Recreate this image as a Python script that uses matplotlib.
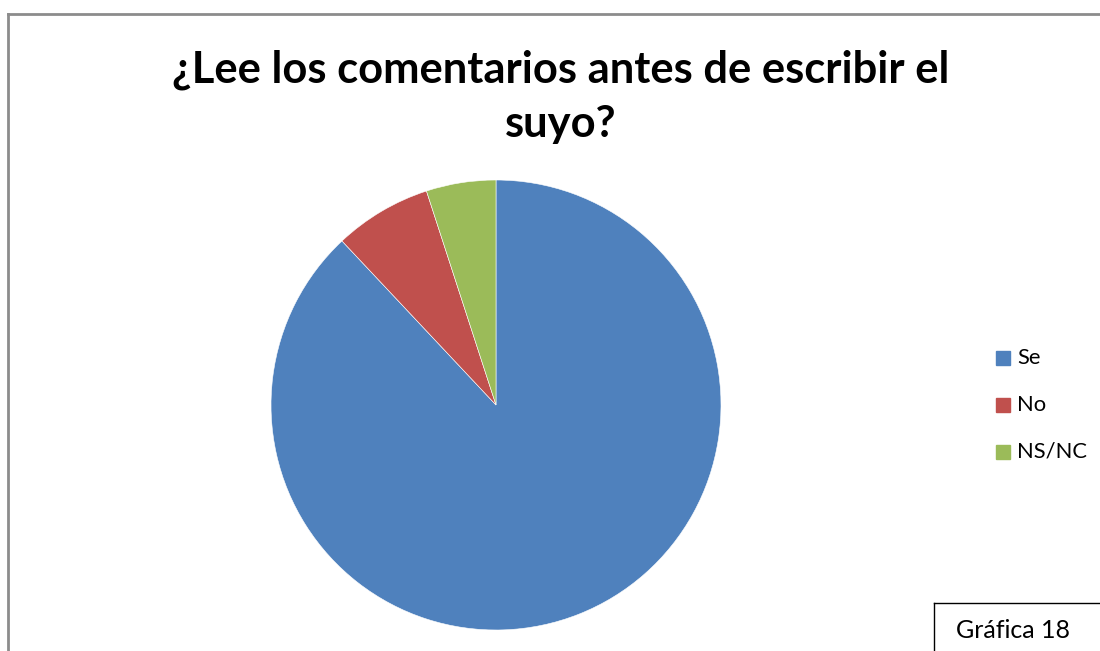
import matplotlib.pyplot as plt
from matplotlib.patches import Rectangle
from matplotlib.lines import Line2D

# Survey answers
labels = ["Se", "No", "NS/NC"]
values = [88, 7, 5]
colors = ["#4F81BD", "#C0504D", "#9BBB59"]

fig = plt.figure(figsize=(11, 6.51), dpi=100)

# Chart frame (top and left edges visible)
fig.add_artist(Line2D([8/1100, 8/1100], [0, 1 - 14/651], color="#8c8c8c", lw=2))
fig.add_artist(Line2D([8/1100, 1], [1 - 14/651, 1 - 14/651], color="#8c8c8c", lw=2))

# Title
fig.text(0.510, 1 - 70/651, "¿Lee los comentarios antes de escribir el",
         ha="center", va="center", fontsize=31.3, fontweight="bold",
         family=["Lato", "DejaVu Sans"])
fig.text(0.510, 1 - 124/651, "suyo?",
         ha="center", va="center", fontsize=31.3, fontweight="bold",
         family=["Lato", "DejaVu Sans"])

# Pie
ax = fig.add_axes([271/1100, 21/651, 450/1100, 450/651])
ax.pie(values, colors=colors, startangle=90, counterclock=False,
       wedgeprops=dict(edgecolor="white", linewidth=0.4))
ax.set_xlim(-1, 1)
ax.set_ylim(-1, 1)
ax.set_aspect("equal")

# Legend
for i, (lab, col) in enumerate(zip(labels, colors)):
    y = 1 - (358 + i * 47) / 651
    fig.add_artist(Rectangle((996/1100, y - 7/651), 14/1100, 14/651,
                             color=col, transform=fig.transFigure))
    fig.text(1017/1100, y, lab, ha="left", va="center", fontsize=15.8,
             family=["Lato", "DejaVu Sans"])

# Figure number box
fig.add_artist(Line2D([934/1100, 934/1100], [0, 1 - 603/651], color="black", lw=1))
fig.add_artist(Line2D([934/1100, 1], [1 - 603/651, 1 - 603/651], color="black", lw=1))
fig.text(1013/1100, 1 - 630/651, "Gráfica 18", ha="center", va="center",
         fontsize=18, family=["Lato", "DejaVu Sans"])

fig.savefig("out.png", dpi=100)
